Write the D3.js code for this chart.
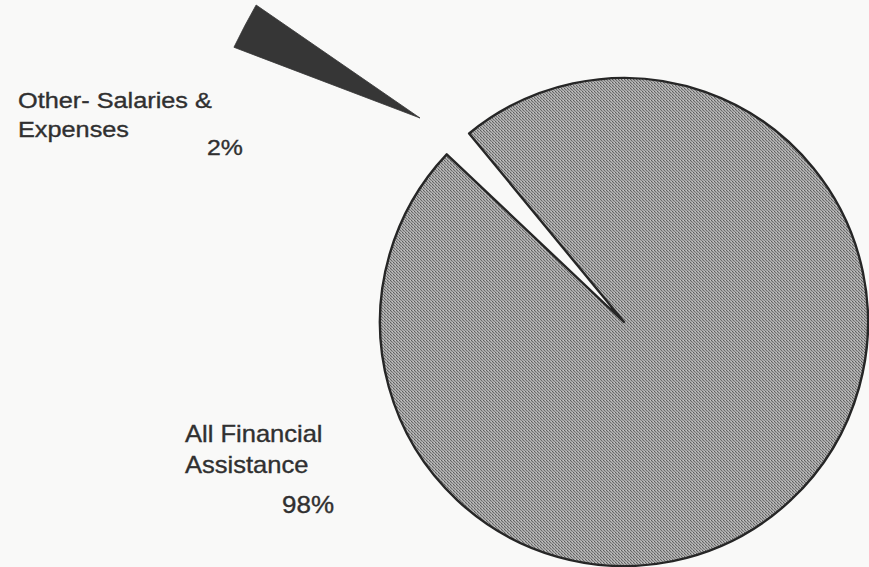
<!DOCTYPE html>
<html>
<head>
<meta charset="utf-8">
<script src="https://cdn.jsdelivr.net/npm/d3@7"></script>
<style>
  body { margin: 0; background: #f9f9f8; }
  svg { display: block; }
  text { font-family: "Liberation Sans", Arial, Helvetica, sans-serif; fill: #303030; stroke: #303030; stroke-width: 0.35px; }
</style>
</head>
<body>
<div id="chart"></div>
<script>
// data
var categories = ["All Financial Assistance", "Other- Salaries & Expenses"]
var values = [98, 2]
var labelLines = [["All Financial", "Assistance"], ["Other- Salaries &", "Expenses"]]
var pctLabels = ["98%", "2%"]

var width = 869, height = 567
var cx = 624, cy = 322, radius = 244

var svg = d3.select("#chart")
  .append("svg")
    .attr("width", width)
    .attr("height", height)

svg.append("rect")
  .attr("width", width).attr("height", height)
  .attr("fill", "#f9f9f8")

// halftone-ish fill like the printed page
var defs = svg.append("defs")
var pat = defs.append("pattern")
  .attr("id", "dots")
  .attr("patternUnits", "userSpaceOnUse")
  .attr("width", 3).attr("height", 3)
pat.append("rect").attr("width", 3).attr("height", 3).attr("fill", "#aaaaaa")
pat.append("rect").attr("x", 0).attr("y", 0).attr("width", 1).attr("height", 1).attr("fill", "#5c5c5c")
pat.append("rect").attr("x", 1).attr("y", 1).attr("width", 1).attr("height", 1).attr("fill", "#6c6c6c")
pat.append("rect").attr("x", 2).attr("y", 2).attr("width", 1).attr("height", 1).attr("fill", "#7e7e7e")
pat.append("rect").attr("x", 2).attr("y", 0).attr("width", 1).attr("height", 1).attr("fill", "#c4c4c4")

var rad = Math.PI / 180
var start = -39.4 * rad

var pie = d3.pie()
  .sort(null)
  .startAngle(start)
  .endAngle(start + 2 * Math.PI)
  .value(d => d)

var arcs = pie(values)

var arc = d3.arc().innerRadius(0).outerRadius(radius)

// main slice
svg.append("g")
  .attr("transform", "translate(" + cx + "," + cy + ")")
  .append("path")
    .attr("d", arc(arcs[0]))
    .attr("fill", "url(#dots)")
    .attr("stroke", "#262626")
    .attr("stroke-width", 2.4)
    .attr("stroke-linejoin", "round")

// exploded small slice, pulled far out to the upper left
var small = arcs[1]
var mid = (small.startAngle + small.endAngle) / 2 / rad
var smallArc = d3.arc().innerRadius(0).outerRadius(198)
svg.append("g")
  .attr("transform", "translate(420,118) rotate(-62.3) scale(1.92,1) rotate(" + (-mid) + ")")
  .append("path")
    .attr("d", smallArc(small))
    .attr("fill", "#363636")
    .attr("stroke", "#363636")
    .attr("stroke-width", 0.5)

// labels (printed type is a little wide)
function label(x, y, size, sx, txt) {
  svg.append("text")
    .attr("transform", "translate(" + x + "," + y + ") scale(" + sx + ",1)")
    .style("font-size", size + "px")
    .text(txt)
}

label(18, 108, 22, 1.15, labelLines[1][0])
label(18, 137, 22, 1.15, labelLines[1][1])
label(207, 155, 22, 1.13, pctLabels[1])

label(185, 442, 23, 1.11, labelLines[0][0])
label(185, 473, 23, 1.11, labelLines[0][1])
label(282, 513, 23, 1.13, pctLabels[0])
</script>
</body>
</html>
